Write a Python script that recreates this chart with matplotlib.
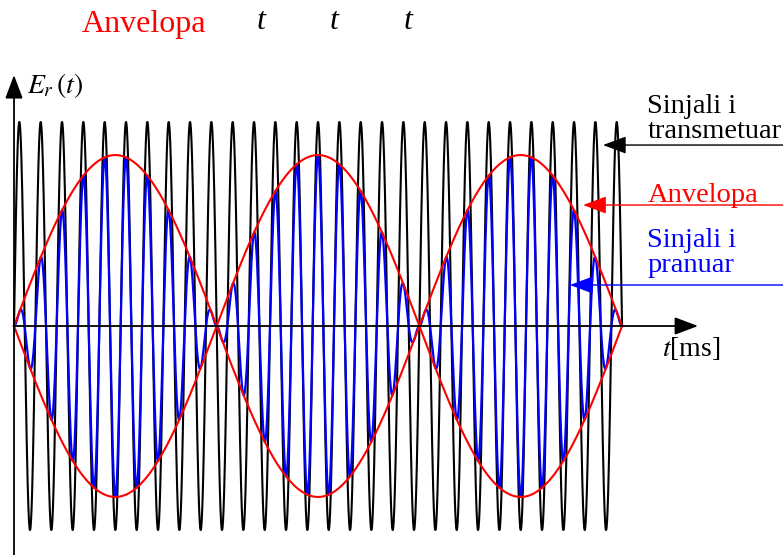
import numpy as np
import matplotlib.pyplot as plt

plt.rcParams['font.family'] = ['Liberation Serif', 'DejaVu Serif']
plt.rcParams['mathtext.fontset'] = 'stix'

# signal parameters (time in ms)
t_end = 3.0            # three envelope humps
f_carrier = 9.5        # carrier cycles per ms
carrier_amp = 1.0
envelope_amp = 0.838
labels_top = ['Anvelopa', 't', 't', 't']

t = np.linspace(0, t_end, 6000)
carrier = carrier_amp * np.sin(2 * np.pi * f_carrier * t)
envelope = envelope_amp * np.sin(np.pi * t)
received = np.abs(envelope) * np.sin(2 * np.pi * f_carrier * t)

fig = plt.figure(figsize=(7.83, 5.55), dpi=100)
ax = fig.add_axes([0, 0, 1, 1])
ax.set_xlim(-0.0691, 3.794)
ax.set_ylim(-1.1225, 1.598)
ax.axis('off')

ax.plot(t, carrier, color='black', lw=1.5, zorder=2)
ax.plot(t, received, color='#0000ff', lw=1.6, zorder=3)
ax.plot(t, envelope, color='#ff0000', lw=1.5, zorder=4)
ax.plot(t, -envelope, color='#ff0000', lw=1.5, zorder=4)

# coordinate axes with arrow heads
head = '-|>,head_length=0.8,head_width=0.3'
ax.annotate('', xy=(0, 1.23), xytext=(0, -1.13),
            arrowprops=dict(arrowstyle=head, mutation_scale=18, lw=1.3,
                            color='black', shrinkA=0, shrinkB=0), zorder=5)
ax.annotate('', xy=(3.375, 0), xytext=(0, 0),
            arrowprops=dict(arrowstyle=head, mutation_scale=18, lw=1.3,
                            color='black', shrinkA=0, shrinkB=0), zorder=5)

ax.text(0.064, 1.181, r'$E_r\,(t)$', fontsize=20, va='center', ha='left')
ax.text(3.197, -0.108, r'$t$[ms]', fontsize=20, va='center', ha='left')

# legend-like labels with pointers
pointers = [
    ('Sinjali i\ntransmetuar', 'black', 1.015, 2.906, 0.887),
    ('Anvelopa', '#ff0000', 0.642, 2.808, 0.593),
    ('Sinjali i\npranuar', '#0000ff', 0.358, 2.743, 0.201),
]
for text, col, ty, tip_x, tip_y in pointers:
    ax.text(3.125, ty, text, color=col, fontsize=20.5, va='center', ha='left',
            linespacing=1.0)
    ax.annotate('', xy=(tip_x, tip_y), xytext=(3.80, tip_y),
                arrowprops=dict(arrowstyle=head, mutation_scale=18, lw=1.0,
                                color=col, shrinkA=0, shrinkB=0), zorder=6)

# caption row at the top
ax.text(0.335, 1.48, labels_top[0], color='#ff0000', fontsize=23,
        va='center', ha='left')
for x, s in zip([1.199, 1.559, 1.924], labels_top[1:]):
    ax.text(x, 1.495, s, fontsize=23, style='italic', va='center', ha='left')

fig.savefig('out.png', dpi=100)
